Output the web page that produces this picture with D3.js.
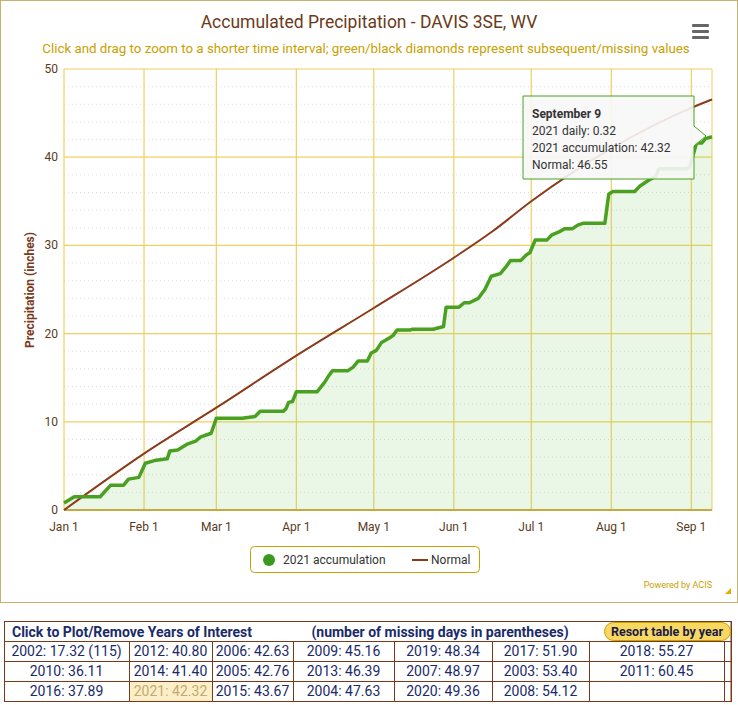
<!DOCTYPE html>
<html><head><meta charset="utf-8">
<script src="https://cdn.jsdelivr.net/npm/d3@7"></script>
<style>body{margin:0;background:#fff;font-family:Roboto,"Noto Sans",sans-serif}</style>
</head><body><svg id="c" width="738" height="705"></svg>
<script>
const accDays=[0,4,14,18,23,25,29,31.5,35,40,41,44,48,51,53,57,59,69,74,76,85,86,87,88.5,90,98,101,102.5,104,110,112,114,117.5,119,121,123,126,127.5,129,134,135,143,147,148,153,155,157,160.5,163,165.5,169,171,173,177,179,180.5,182.5,187,189,191.5,194,197,199,201,209.5,211,212.5,221,223,226,229,230.5,241.5,242.5,245,247,248.5,251];
const accVals=[0.8,1.5,1.5,2.8,2.8,3.5,3.7,5.3,5.6,5.8,6.7,6.8,7.5,7.8,8.3,8.7,10.4,10.4,10.6,11.2,11.2,11.5,12.2,12.3,13.4,13.4,14.5,15.2,15.8,15.8,16.2,16.9,16.9,17.8,18.1,19.0,19.5,19.8,20.4,20.4,20.5,20.5,20.8,23.0,23.0,23.5,23.5,24.0,25.0,26.5,26.8,27.5,28.3,28.3,28.9,29.2,30.6,30.6,31.2,31.5,31.9,31.9,32.3,32.5,32.5,35.8,36.1,36.1,36.7,37.3,37.8,38.7,38.7,39.0,41.6,41.6,42.1,42.32];
const normDays=[0,31,59,90,120,151,166,181,212,243,251];
const normVals=[0,6.4,11.6,17.5,22.9,28.6,31.6,35.0,41.0,45.6,46.55];
const monthLabels=["Jan 1","Feb 1","Mar 1","Apr 1","May 1","Jun 1","Jul 1","Aug 1","Sep 1"];
const monthDays=[0,31,59,90,120,151,181,212,243];
const yTicks=[0,10,20,30,40,50];
const tableRows=[
["2002: 17.32 (115)","2012: 40.80","2006: 42.63","2009: 45.16","2019: 48.34","2017: 51.90","2018: 55.27"],
["2010: 36.11","2014: 41.40","2005: 42.76","2013: 46.39","2007: 48.97","2003: 53.40","2011: 60.45"],
["2016: 37.89","2021: 42.32","2015: 43.67","2004: 47.63","2020: 49.36","2008: 54.12",""]];

const svg=d3.select("#c");
svg.append("rect").attr("x",0.5).attr("y",0.5).attr("width",737).attr("height",602).attr("fill","#fff").attr("stroke","#c8b070");
const x=d3.scaleLinear().domain([0,251]).range([64,712]);
const y=d3.scaleLinear().domain([0,50]).range([510,69]);
const g=svg.append("g");
d3.range(2,50,2).filter(v=>v%10).forEach(v=>g.append("line").attr("x1",64).attr("x2",712).attr("y1",y(v)).attr("y2",y(v)).attr("stroke","#ddd").attr("stroke-dasharray","1,3"));
yTicks.forEach(v=>g.append("line").attr("x1",64).attr("x2",712).attr("y1",y(v)).attr("y2",y(v)).attr("stroke","#f0d060").attr("stroke-width",1.2));
monthDays.forEach(d=>g.append("line").attr("x1",x(d)).attr("x2",x(d)).attr("y1",69).attr("y2",510).attr("stroke","#f0d060").attr("stroke-width",1.2));
g.append("line").attr("x1",712).attr("x2",712).attr("y1",69).attr("y2",510).attr("stroke","#f0d060");
g.append("line").attr("x1",64).attr("x2",712).attr("y1",510).attr("y2",510).attr("stroke","#c8a840").attr("stroke-width",2);
const acc=accDays.map((d,i)=>[d,accVals[i]]);
svg.append("path").datum(acc).attr("d",d3.area().x(d=>x(d[0])).y0(y(0)).y1(d=>y(d[1]))).attr("fill","rgba(120,200,90,0.15)");
svg.append("path").datum(normDays.map((d,i)=>[d,normVals[i]])).attr("d",d3.line().x(d=>x(d[0])).y(d=>y(d[1])).curve(d3.curveMonotoneX)).attr("fill","none").attr("stroke","#8b3a1a").attr("stroke-width",2);
svg.append("path").datum(acc).attr("d",d3.line().x(d=>x(d[0])).y(d=>y(d[1]))).attr("fill","none").attr("stroke","#4aa020").attr("stroke-width",3.5).attr("stroke-linejoin","round");
yTicks.forEach(v=>svg.append("text").attr("x",58).attr("y",y(v)+4).attr("text-anchor","end").attr("font-size",12).attr("fill","#5a3a1a").text(v));
monthDays.forEach((d,i)=>svg.append("text").attr("x",x(d)).attr("y",531).attr("text-anchor","middle").attr("font-size",12).attr("fill","#5a3a1a").text(monthLabels[i]));
svg.append("text").attr("transform","translate(34,290) rotate(-90)").attr("text-anchor","middle").attr("font-size",12).attr("font-weight","bold").attr("fill","#7a3a1a").text("Precipitation (inches)");
svg.append("text").attr("x",369).attr("y",28).attr("text-anchor","middle").attr("font-size",17.5).attr("fill","#6b3a1a").text("Accumulated Precipitation - DAVIS 3SE, WV");
svg.append("text").attr("x",366).attr("y",53).attr("text-anchor","middle").attr("font-size",13.3).attr("fill","#c8a000").text("Click and drag to zoom to a shorter time interval; green/black diamonds represent subsequent/missing values");
[24,30,36].forEach(yy=>svg.append("rect").attr("x",692).attr("y",yy).attr("width",17).attr("height",3).attr("rx",1).attr("fill","#666"));
const tt=svg.append("g").attr("transform","translate(523,96)");
tt.append("path").attr("d","M0,0H171V30L183,40L171,50V83H0Z").attr("fill","rgba(247,247,247,0.9)").attr("stroke","#4aa020");
tt.append("text").attr("x",9).attr("y",22).attr("font-size",12).attr("font-weight","bold").attr("fill","#333").text("September 9");
["2021 daily: 0.32","2021 accumulation: 42.32","Normal: 46.55"].forEach((t,i)=>tt.append("text").attr("x",9).attr("y",39+i*17).attr("font-size",12).attr("fill","#333").text(t));
const lg=svg.append("g");
lg.append("rect").attr("x",250.5).attr("y",546.5).attr("width",229).attr("height",26).attr("rx",4).attr("fill","#fff").attr("stroke","#c8a000");
lg.append("circle").attr("cx",269).attr("cy",560).attr("r",6).attr("fill","#3a9a20");
lg.append("text").attr("x",283).attr("y",564).attr("font-size",12).attr("fill","#333").text("2021 accumulation");
lg.append("line").attr("x1",412).attr("x2",428).attr("y1",560).attr("y2",560).attr("stroke","#8b3a1a").attr("stroke-width",2);
lg.append("text").attr("x",431).attr("y",564).attr("font-size",12).attr("fill","#333").text("Normal");
svg.append("text").attr("x",712).attr("y",588).attr("text-anchor","end").attr("font-size",9).attr("fill","#c8a000").text("Powered by ACIS");
svg.append("path").attr("d","M725,594L731,588L731,594Z").attr("fill","#e0b000");
const cols=[4,129,212,293,394,492,589,724];
const t=svg.append("g").attr("font-size",14).attr("fill","#1a2a6a");
t.append("rect").attr("x",4.5).attr("y",621.5).attr("width",727).attr("height",80).attr("fill","none").attr("stroke","#7a3a1a");
t.append("line").attr("x1",731).attr("x2",731).attr("y1",621).attr("y2",702).attr("stroke","#7a3a1a");
t.append("text").attr("x",12).attr("y",637).attr("font-weight","bold").attr("font-size",14).text("Click to Plot/Remove Years of Interest");
t.append("text").attr("x",440).attr("y",637).attr("text-anchor","middle").attr("font-weight","bold").attr("font-size",14).text("(number of missing days in parentheses)");
t.append("rect").attr("x",604.5).attr("y",622.5).attr("width",126).attr("height",18).attr("rx",9).attr("fill","#f8d860").attr("stroke","#c8a000");
t.append("text").attr("x",667).attr("y",636).attr("text-anchor","middle").attr("font-weight","bold").attr("font-size",12.5).attr("fill","#1a1a4a").text("Resort table by year");
tableRows.forEach((row,r)=>{
  const y0=641+r*20;
  t.append("line").attr("x1",4).attr("x2",731).attr("y1",y0+0.5).attr("y2",y0+0.5).attr("stroke","#7a3a1a");
  row.forEach((v,c)=>{
    if(v==="2021: 42.32") t.append("rect").attr("x",cols[c]+1).attr("y",y0+1).attr("width",cols[c+1]-cols[c]-1).attr("height",19).attr("fill","#fbefc8");
    t.append("line").attr("x1",cols[c+1]+0.5).attr("x2",cols[c+1]+0.5).attr("y1",y0).attr("y2",y0+20).attr("stroke","#7a3a1a");
    t.append("text").attr("x",(cols[c]+cols[c+1])/2).attr("y",y0+15).attr("text-anchor","middle").attr("fill",v==="2021: 42.32"?"#c8a870":"#1a2a6a").text(v);
  });
});
</script></body></html>
